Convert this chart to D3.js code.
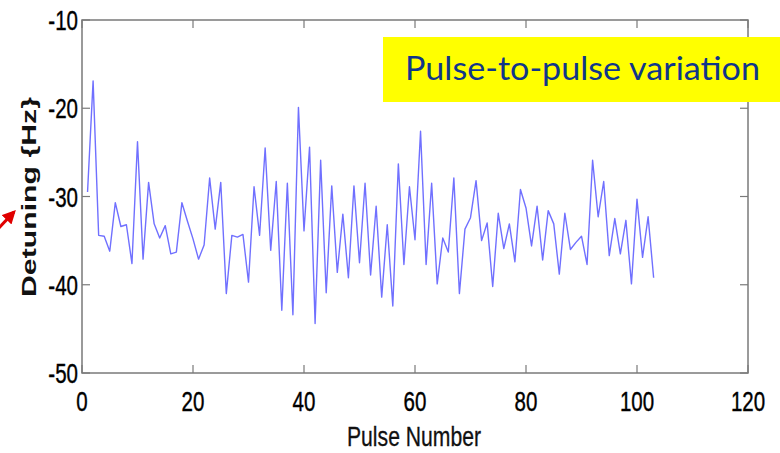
<!DOCTYPE html>
<html>
<head>
<meta charset="utf-8">
<script src="https://cdn.jsdelivr.net/npm/d3@7"></script>
<style>
  html, body { margin: 0; padding: 0; background: #fff; }
  svg { display: block; }
</style>
</head>
<body>
<svg id="chart" width="780" height="453"></svg>
<script>
const width = 780;
const height = 453;

// detuning (Hz) for pulses 1..103
const pulses = d3.range(1, 104);
const detuning = [
  -29.5, -16.9, -34.4, -34.5, -36.2, -30.7, -33.4, -33.2, -37.6, -23.8,
  -37.1, -28.4, -33.1, -34.7, -33.3, -36.5, -36.3, -30.7, -32.8, -34.8,
  -37.1, -35.5, -27.9, -33.7, -28.4, -41.0, -34.4, -34.6, -34.3, -39.7,
  -28.9, -34.4, -24.5, -36.1, -28.3, -42.9, -28.5, -43.4, -19.9, -33.9,
  -24.4, -44.4, -25.9, -40.9, -28.8, -38.6, -32.0, -39.2, -28.8, -37.5,
  -28.5, -38.9, -31.1, -41.4, -33.2, -42.4, -26.3, -37.7, -28.9, -34.9,
  -22.6, -37.7, -28.5, -39.9, -34.7, -36.3, -27.9, -41.0, -33.7, -32.4,
  -28.2, -35.0, -33.0, -40.2, -31.9, -35.9, -33.1, -37.4, -29.2, -31.3,
  -35.6, -31.1, -37.2, -31.6, -33.1, -38.8, -31.9, -36.0, -35.2, -34.5,
  -37.7, -25.9, -32.3, -28.3, -36.7, -32.5, -36.5, -32.7, -39.9, -30.3,
  -36.9, -32.3, -39.2
];
const xTicks = [0, 20, 40, 60, 80, 100, 120];
const yTicks = [-10, -20, -30, -40, -50];

const margin = {left: 82, right: 32, top: 20, bottom: 80};

const x = d3.scaleLinear().domain([0, 120]).range([margin.left, width - margin.right]);
const y = d3.scaleLinear().domain([-50, -10]).range([height - margin.bottom, margin.top]);

const svg = d3.select('#chart');

const frame = '#7a7a7a';
const tickLen = 8;

// plot box
svg.append('rect')
    .attr('x', x(0))
    .attr('y', y(-10))
    .attr('width', x(120) - x(0))
    .attr('height', y(-50) - y(-10))
    .attr('fill', 'none')
    .attr('stroke', frame)
    .attr('stroke-width', 1.5);

// inward ticks on all four sides (matlab style)
const ticks = svg.append('g').attr('stroke', frame).attr('stroke-width', 1.2);
xTicks.forEach(t => {
    ticks.append('line').attr('x1', x(t)).attr('x2', x(t)).attr('y1', y(-50)).attr('y2', y(-50) - tickLen);
    ticks.append('line').attr('x1', x(t)).attr('x2', x(t)).attr('y1', y(-10)).attr('y2', y(-10) + tickLen);
});
yTicks.forEach(t => {
    ticks.append('line').attr('x1', x(0)).attr('x2', x(0) + tickLen).attr('y1', y(t)).attr('y2', y(t));
    ticks.append('line').attr('x1', x(120)).attr('x2', x(120) - tickLen).attr('y1', y(t)).attr('y2', y(t));
});

const labelFont = '"Liberation Sans", Arial, sans-serif';
const squeeze = 0.76;

// x tick labels
svg.append('g')
  .selectAll('text')
  .data(xTicks)
  .join('text')
    .attr('transform', d => `translate(${x(d)},${y(-50) + 38}) scale(${squeeze},1)`)
    .attr('text-anchor', 'middle')
    .attr('font-family', labelFont)
    .attr('font-size', 27)
    .attr('fill', '#000')
    .attr('stroke', '#000')
    .attr('stroke-width', 0.4)
    .text(d => d);

// y tick labels
svg.append('g')
  .selectAll('text')
  .data(yTicks)
  .join('text')
    .attr('transform', d => `translate(${x(0) - 4},${y(d) + 10}) scale(${squeeze},1)`)
    .attr('text-anchor', 'end')
    .attr('font-family', labelFont)
    .attr('font-size', 27)
    .attr('fill', '#000')
    .attr('stroke', '#000')
    .attr('stroke-width', 0.4)
    .text(d => d);

// axis titles
svg.append('text')
    .attr('x', 414 - 67)
    .attr('y', 446)
    .attr('font-family', labelFont)
    .attr('font-size', 27)
    .attr('fill', '#111')
    .attr('stroke', '#111')
    .attr('stroke-width', 0.3)
    .attr('textLength', 134)
    .attr('lengthAdjust', 'spacingAndGlyphs')
    .text('Pulse Number');

svg.append('text')
    .attr('transform', `translate(36,${197 + 100}) rotate(-90)`)
    .attr('font-family', labelFont)
    .attr('font-size', 21)
    .attr('font-weight', 'bold')
    .attr('fill', '#111')
    .attr('textLength', 200)
    .attr('lengthAdjust', 'spacingAndGlyphs')
    .text('Detuning {Hz}');

// the series
const line = d3.line()
    .x((d, i) => x(pulses[i]))
    .y(d => y(d));

svg.append('path')
    .datum(detuning)
    .attr('fill', 'none')
    .attr('stroke', '#7070ff')
    .attr('stroke-width', 1.4)
    .attr('stroke-linejoin', 'round')
    .attr('d', line);

// yellow callout
svg.append('rect')
    .attr('x', 383)
    .attr('y', 37)
    .attr('width', 400)
    .attr('height', 65)
    .attr('fill', '#ffff00');

svg.append('text')
    .attr('x', 405)
    .attr('y', 80)
    .attr('font-family', 'Lato, "Open Sans", sans-serif')
    .attr('font-size', 32)
    .attr('fill', '#10368a')
    .attr('textLength', 355)
    .attr('lengthAdjust', 'spacingAndGlyphs')
    .text('Pulse-to-pulse variation');

// red arrow coming in from the left edge
svg.append('defs').append('marker')
    .attr('id', 'arrowhead')
    .attr('viewBox', '0 0 10 10')
    .attr('refX', 8)
    .attr('refY', 5)
    .attr('markerWidth', 4.5)
    .attr('markerHeight', 4.5)
    .attr('orient', 'auto')
  .append('path')
    .attr('d', 'M0,0 L10,5 L0,10 z')
    .attr('fill', '#e00000');

svg.append('line')
    .attr('x1', -4)
    .attr('y1', 231)
    .attr('x2', 14)
    .attr('y2', 212)
    .attr('stroke', '#e00000')
    .attr('stroke-width', 3)
    .attr('marker-end', 'url(#arrowhead)');
</script>
</body>
</html>
